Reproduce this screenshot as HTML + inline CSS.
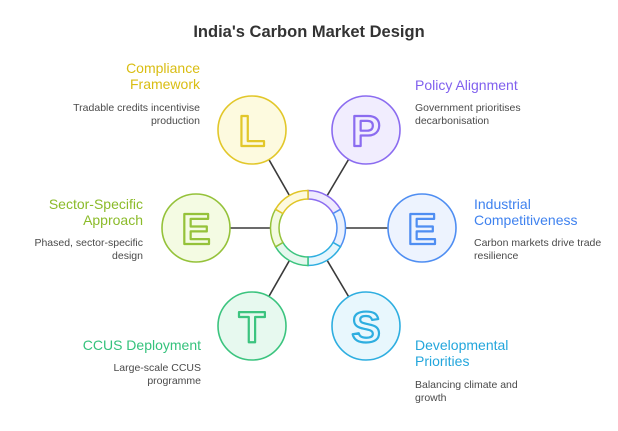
<!DOCTYPE html>
<html><head><meta charset="utf-8"><style>
html,body{margin:0;padding:0;background:#fff;}
svg text{font-family:"Liberation Sans",sans-serif;}
.h{font-size:14px;}
.d{font-size:10.5px;fill:#4a4a4a;}
.L{font-size:44px;font-weight:700;stroke-width:2.2;stroke-linejoin:round;}
</style></head><body>
<svg width="618" height="426" viewBox="0 0 618 426" xmlns="http://www.w3.org/2000/svg">
<text x="309" y="37" text-anchor="middle" font-size="16.5" font-weight="bold" fill="#333">India's Carbon Market Design</text>
<g stroke="#3a3a3a" stroke-width="1.6">
<line x1="308" y1="228" x2="252" y2="130"/><line x1="308" y1="228" x2="366" y2="130"/>
<line x1="308" y1="228" x2="422" y2="228"/><line x1="308" y1="228" x2="366" y2="326"/>
<line x1="308" y1="228" x2="252" y2="326"/><line x1="308" y1="228" x2="196" y2="228"/>
</g>
<circle cx="308" cy="228" r="29" fill="#fff"/>
<g stroke-width="1.5">
<path d="M308,190.5 A37.5,37.5 0 0 1 340.5,209.3 L333.1,213.5 A29,29 0 0 0 308,199 Z" fill="#efeafe" stroke="#8b6cf0"/>
<path d="M340.5,209.3 A37.5,37.5 0 0 1 340.5,246.8 L333.1,242.5 A29,29 0 0 0 333.1,213.5 Z" fill="#eaf1fe" stroke="#4f8ef2"/>
<path d="M340.5,246.8 A37.5,37.5 0 0 1 308,265.5 L308,257 A29,29 0 0 0 333.1,242.5 Z" fill="#e6f6fd" stroke="#2eaee0"/>
<path d="M308,265.5 A37.5,37.5 0 0 1 275.5,246.8 L282.9,242.5 A29,29 0 0 0 308,257 Z" fill="#e5f8ee" stroke="#3cc47f"/>
<path d="M275.5,246.8 A37.5,37.5 0 0 1 275.5,209.3 L282.9,213.5 A29,29 0 0 0 282.9,242.5 Z" fill="#f3fae0" stroke="#95c23a"/>
<path d="M275.5,209.3 A37.5,37.5 0 0 1 308,190.5 L308,199 A29,29 0 0 0 282.9,213.5 Z" fill="#fdf9de" stroke="#e0c526"/>
</g>
<circle cx="252" cy="130" r="34" fill="#fdfadf" stroke="#e2c72a" stroke-width="1.6"/>
<circle cx="366" cy="130" r="34" fill="#f1edfe" stroke="#8b6cf0" stroke-width="1.6"/>
<circle cx="422" cy="228" r="34" fill="#edf3fe" stroke="#4f8ef2" stroke-width="1.6"/>
<circle cx="366" cy="326" r="34" fill="#e8f7fd" stroke="#2eaee0" stroke-width="1.6"/>
<circle cx="252" cy="326" r="34" fill="#e7f9ef" stroke="#3cc47f" stroke-width="1.6"/>
<circle cx="196" cy="228" r="34" fill="#f4fbe3" stroke="#95c23a" stroke-width="1.6"/>
<text class="L" x="252" y="146" text-anchor="middle" fill="#fdfadf" stroke="#e2c72a">L</text>
<text class="L" x="366" y="146" text-anchor="middle" fill="#f1edfe" stroke="#8b6cf0">P</text>
<text class="L" x="422" y="244" text-anchor="middle" fill="#edf3fe" stroke="#4f8ef2">E</text>
<text class="L" x="366" y="342" text-anchor="middle" fill="#e8f7fd" stroke="#2eaee0">S</text>
<text class="L" x="252" y="342" text-anchor="middle" fill="#e7f9ef" stroke="#3cc47f">T</text>
<text class="L" x="196" y="244" text-anchor="middle" fill="#f4fbe3" stroke="#95c23a">E</text>

<g text-anchor="end">
<text class="h" x="200" y="73" fill="#d9bd12">Compliance</text>
<text class="h" x="200" y="89" fill="#d9bd12">Framework</text>
<text class="d" x="200" y="111">Tradable credits incentivise</text>
<text class="d" x="200" y="124">production</text>
<text class="h" x="143" y="209" fill="#8bbb2a">Sector-Specific</text>
<text class="h" x="143" y="225" fill="#8bbb2a">Approach</text>
<text class="d" x="143" y="246">Phased, sector-specific</text>
<text class="d" x="143" y="259">design</text>
<text class="h" x="201" y="350" fill="#35c27c">CCUS Deployment</text>
<text class="d" x="201" y="371">Large-scale CCUS</text>
<text class="d" x="201" y="384">programme</text>
</g>
<text class="h" x="415" y="90" fill="#8060ee">Policy Alignment</text>
<text class="d" x="415" y="111">Government prioritises</text>
<text class="d" x="415" y="124">decarbonisation</text>
<text class="h" x="474" y="209" fill="#3f82ef">Industrial</text>
<text class="h" x="474" y="225" fill="#3f82ef">Competitiveness</text>
<text class="d" x="474" y="246">Carbon markets drive trade</text>
<text class="d" x="474" y="259">resilience</text>
<text class="h" x="415" y="350" fill="#23a6dc">Developmental</text>
<text class="h" x="415" y="366" fill="#23a6dc">Priorities</text>
<text class="d" x="415" y="388">Balancing climate and</text>
<text class="d" x="415" y="401">growth</text>
</svg>
</body></html>
